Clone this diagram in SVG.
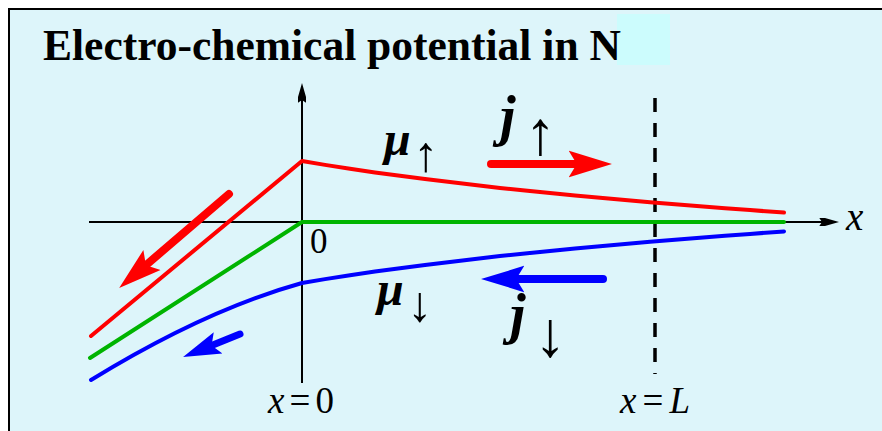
<svg xmlns="http://www.w3.org/2000/svg" width="882" height="431" viewBox="0 0 882 431">
<style>
.ax{stroke:#000;stroke-width:2;fill:none}
.cv{fill:none;stroke-width:4;stroke-linejoin:round;stroke-linecap:round}
.fl{fill:none;stroke-linecap:round}
.serif{font-family:"Liberation Serif","Times New Roman",serif;fill:#000}
.sym{font-family:"Liberation Serif","Times New Roman",serif;font-weight:bold;font-style:italic;fill:#000}
.ar{font-family:"Liberation Serif","DejaVu Serif",serif;fill:#000}
</style>
<defs>
<marker id="hr" viewBox="0 -2 6 4" markerWidth="6" markerHeight="4" refX="1" refY="0" orient="auto" markerUnits="strokeWidth"><path d="M0,-1.65 L5.4,0 L0,1.65 L1,0 Z" fill="#ff0000"/></marker>
<marker id="hb" viewBox="0 -2 6 4" markerWidth="6" markerHeight="4" refX="1" refY="0" orient="auto" markerUnits="strokeWidth"><path d="M0,-1.65 L5.4,0 L0,1.65 L1,0 Z" fill="#0000ff"/></marker>
<marker id="hk" viewBox="0 -4 22 8" markerWidth="22" markerHeight="8" refX="4" refY="0" orient="auto" markerUnits="userSpaceOnUse"><path d="M0,-6 L21,0 L0,6 L4,0 Z" fill="#000"/></marker>
</defs>
<rect x="9" y="9" width="900" height="450" fill="#ddf5fa" stroke="#000" stroke-width="2"/>
<rect x="617" y="14" width="53" height="51" fill="#ccfcfd"/>
<text class="serif" x="43" y="60" font-size="43.5" font-weight="bold">Electro-chemical potential in N</text>

<g id="axes">
<line class="ax" x1="302" y1="383" x2="302" y2="100" marker-end="url(#hk)"/>
<line class="ax" x1="89" y1="222" x2="822" y2="222" marker-end="url(#hk)"/>
<line x1="655" y1="98" x2="655" y2="374" stroke="#000" stroke-width="3.5" stroke-dasharray="14,11"/>
</g>

<g id="curves">
<polyline class="cv" stroke="#ff0000" points="91,336 302,161 325,164.9 350,168.8 375,172.4 400,175.8 425,179.1 450,182 475,185.1 500,187.9 525,190.6 550,193.1 575,195.5 600,197.8 625,200.1 650,202.2 675,204.3 700,206.3 725,208.2 750,210.1 784,212.6"/>
<polyline class="cv" stroke="#00b400" points="90,358 302,222 784,222"/>
<path class="cv" stroke="#0000ff" d="M91,380 Q205,310 302,283 L325,279.1 L350,275.2 L375,271.6 L400,268.2 L425,265.1 L450,262 L475,258.9 L500,256.1 L525,253.4 L550,250.9 L575,248.5 L600,246.2 L625,243.9 L650,241.8 L675,239.7 L700,237.7 L725,235.8 L750,233.9 L784,231.4"/>
</g>

<g id="connectors">
<line class="fl" x1="491" y1="164" x2="576.8" y2="164" stroke="#ff0000" stroke-width="8" marker-end="url(#hr)"/>
<line class="fl" x1="603" y1="279" x2="516.2" y2="279" stroke="#0000ff" stroke-width="8" marker-end="url(#hb)"/>
<line class="fl" x1="229" y1="194" x2="145.9" y2="265.2" stroke="#ff0000" stroke-width="8" marker-end="url(#hr)"/>
<line class="fl" x1="240" y1="334" x2="211.6" y2="345.5" stroke="#0000ff" stroke-width="7" marker-end="url(#hb)"/>
</g>

<g id="labels">
<text class="sym" x="384" y="155" font-size="48">μ</text>
<text class="ar" x="413.5" y="171" font-size="50">↑</text>
<text class="sym" x="500" y="135" font-size="56">j</text>
<text class="ar" x="525" y="154" font-size="62">↑</text>
<text class="sym" x="377" y="305" font-size="48">μ</text>
<text class="ar" x="407.5" y="321" font-size="50">↓</text>
<text class="sym" x="510" y="333" font-size="56">j</text>
<text class="ar" x="534" y="356" font-size="64">↓</text>
<text class="serif" x="310" y="253" font-size="35">0</text>
<text class="serif" x="846" y="230" font-size="39" font-style="italic">x</text>
<text class="serif" x="268" y="413" font-size="37" textLength="66" lengthAdjust="spacing"><tspan font-style="italic">x</tspan>=0</text>
<text class="serif" x="620" y="413" font-size="37" textLength="70" lengthAdjust="spacing"><tspan font-style="italic">x</tspan>=<tspan font-style="italic">L</tspan></text>
</g>
</svg>
